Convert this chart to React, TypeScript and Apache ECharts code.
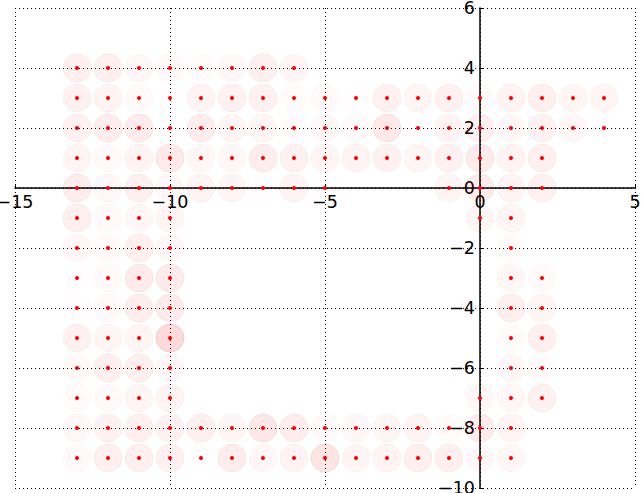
import React, { useEffect, useRef } from "react";
import * as echarts from "echarts";

// Row y-levels and, for each row, the x positions and circle opacities
const r4Y = 4;
const r4X = [-13, -12, -11, -10, -9, -8, -7, -6];
const r4A = [0.08, 0.08, 0.04, 0.03, 0.02, 0.04, 0.08, 0.05];

const r3Y = 3;
const r3X = [-13, -12, -11, -10, -9, -8, -7, -6, -5, -4, -3, -2, -1, 0, 1, 2, 3, 4];
const r3A = [0.07, 0.06, 0.03, 0.01, 0.06, 0.07, 0.07, 0.02, 0.03, 0.01, 0.07, 0.05, 0.07, 0.03, 0.06, 0.08, 0.05, 0.05];

const r2Y = 2;
const r2X = [-13, -12, -11, -10, -9, -8, -7, -6, -5, -4, -3, -2, -1, 0, 1, 2, 3, 4];
const r2A = [0.07, 0.09, 0.1, 0.01, 0.09, 0.05, 0.05, 0.02, 0.04, 0.03, 0.11, 0.01, 0.06, 0.08, 0.04, 0.07, 0.04, 0.01];

const r1Y = 1;
const r1X = [-13, -12, -11, -10, -9, -8, -7, -6, -5, -4, -3, -2, -1, 0, 1, 2];
const r1A = [0.05, 0.03, 0.06, 0.11, 0.04, 0.04, 0.09, 0.07, 0.05, 0.06, 0.07, 0.05, 0.07, 0.1, 0.06, 0.08];

const r0Y = 0;
const r0X = [-13, -12, -11, -10, -9, -8, -7, -6, -5, -1, 0, 1, 2];
const r0A = [0.09, 0.04, 0.08, 0.04, 0.06, 0.05, 0.01, 0.06, 0.01, 0.05, 0.1, 0.06, 0.07];

const rm1Y = -1;
const rm1X = [-13, -12, -11, -10, 0, 1];
const rm1A = [0.08, 0.03, 0.04, 0.05, 0.05, 0.05];

const rm2Y = -2;
const rm2X = [-13, -12, -11, -10, 1];
const rm2A = [0.04, 0.03, 0.08, 0.04, 0.02];

const rm3Y = -3;
const rm3X = [-13, -12, -11, -10, 1, 2];
const rm3A = [0.01, 0.03, 0.1, 0.1, 0.04, 0.03];

const rm4Y = -4;
const rm4X = [-13, -12, -11, -10, 1, 2];
const rm4A = [0.01, 0.03, 0.09, 0.1, 0.08, 0.05];

const rm5Y = -5;
const rm5X = [-13, -12, -11, -10, 1, 2];
const rm5A = [0.07, 0.05, 0.05, 0.18, 0.02, 0.08];

const rm6Y = -6;
const rm6X = [-13, -12, -11, -10, 1, 2];
const rm6A = [0.03, 0.08, 0.08, 0.04, 0.04, 0.02];

const rm7Y = -7;
const rm7X = [-13, -12, -11, -10, 0, 1, 2];
const rm7A = [0.02, 0.03, 0.05, 0.06, 0.04, 0.04, 0.07];

const rm8Y = -8;
const rm8X = [-13, -12, -11, -10, -9, -8, -7, -6, -5, -4, -3, -2, -1, 0, 1];
const rm8A = [0.04, 0.07, 0.08, 0.07, 0.08, 0.05, 0.12, 0.09, 0.03, 0.04, 0.05, 0.06, 0.02, 0.1, 0.05];

const rm9Y = -9;
const rm9X = [-13, -12, -11, -10, -9, -8, -7, -6, -5, -4, -3, -2, -1, 0, 1];
const rm9A = [0.03, 0.08, 0.08, 0.07, 0.01, 0.09, 0.04, 0.06, 0.13, 0.05, 0.06, 0.08, 0.08, 0.04, 0.04];

const rows: [number, number[], number[]][] = [
  [r4Y, r4X, r4A],
  [r3Y, r3X, r3A],
  [r2Y, r2X, r2A],
  [r1Y, r1X, r1A],
  [r0Y, r0X, r0A],
  [rm1Y, rm1X, rm1A],
  [rm2Y, rm2X, rm2A],
  [rm3Y, rm3X, rm3A],
  [rm4Y, rm4X, rm4A],
  [rm5Y, rm5X, rm5A],
  [rm6Y, rm6X, rm6A],
  [rm7Y, rm7X, rm7A],
  [rm8Y, rm8X, rm8A],
  [rm9Y, rm9X, rm9A],
];

const X_MIN = -15;
const X_MAX = 5;
const X_STEP = 5;
const Y_MIN = -10;
const Y_MAX = 6;
const Y_STEP = 2;

const W = 641;
const H = 493;
const G_LEFT = 15;
const G_RIGHT = 6;
const G_TOP = 8;
const G_BOTTOM = 5;

const fmt = (v: number) => String(v).replace("-", "\u2212");

export default function App() {
  const ref = useRef<HTMLDivElement>(null);

  useEffect(() => {
    const chart = echarts.init(ref.current!, null, { renderer: "svg" });

    const circles: any[] = [];
    const dots: any[] = [];
    rows.forEach(([y, xs, as]) => {
      xs.forEach((x, i) => {
        circles.push({ value: [x, y], itemStyle: { opacity: as[i] * 0.8 } });
        dots.push([x, y]);
      });
    });

    const plotW = W - G_LEFT - G_RIGHT;
    const plotH = H - G_TOP - G_BOTTOM;
    // shift the axes (line, ticks and labels) so that they cross at the origin
    const xAxisOffset = -((0 - Y_MIN) / (Y_MAX - Y_MIN)) * plotH;
    const yAxisOffset = -((0 - X_MIN) / (X_MAX - X_MIN)) * plotW;

    const axisCommon = {
      type: "value" as const,
      axisLine: { show: true, onZero: false, lineStyle: { color: "#000", width: 1.5 } },
      axisTick: { show: true, inside: true, length: 4, lineStyle: { color: "#000", width: 1 } },
      splitLine: { show: true, lineStyle: { color: "#000", width: 1, type: [1, 3] } },
    };
    const labelCommon = {
      fontFamily: "DejaVu Sans",
      fontSize: 17.5,
      color: "#000",
      margin: 5,
      formatter: fmt,
    };

    chart.setOption({
      animation: false,
      backgroundColor: "#fff",
      grid: {
        left: G_LEFT,
        right: G_RIGHT,
        top: G_TOP,
        bottom: G_BOTTOM,
        containLabel: false,
        outerBoundsMode: "none",
      },
      xAxis: {
        ...axisCommon,
        position: "bottom",
        offset: xAxisOffset,
        min: X_MIN,
        max: X_MAX,
        interval: X_STEP,
        axisLabel: labelCommon,
      },
      yAxis: {
        ...axisCommon,
        position: "left",
        offset: yAxisOffset,
        min: Y_MIN,
        max: Y_MAX,
        interval: Y_STEP,
        axisLabel: labelCommon,
      },
      series: [
        {
          type: "scatter",
          silent: true,
          symbol: "circle",
          symbolSize: 28,
          itemStyle: { color: "#ff0000", borderColor: "#000", borderWidth: 0.8 },
          data: circles,
          z: 2,
        },
        {
          type: "scatter",
          silent: true,
          symbol: "circle",
          symbolSize: 4,
          itemStyle: { color: "#ff0000", opacity: 1 },
          data: dots,
          z: 3,
        },
      ],
    });

    return () => chart.dispose();
  }, []);

  return (
    <div
      ref={ref}
      style={{ position: "absolute", left: 0, top: 0, width: W, height: H }}
    />
  );
}
